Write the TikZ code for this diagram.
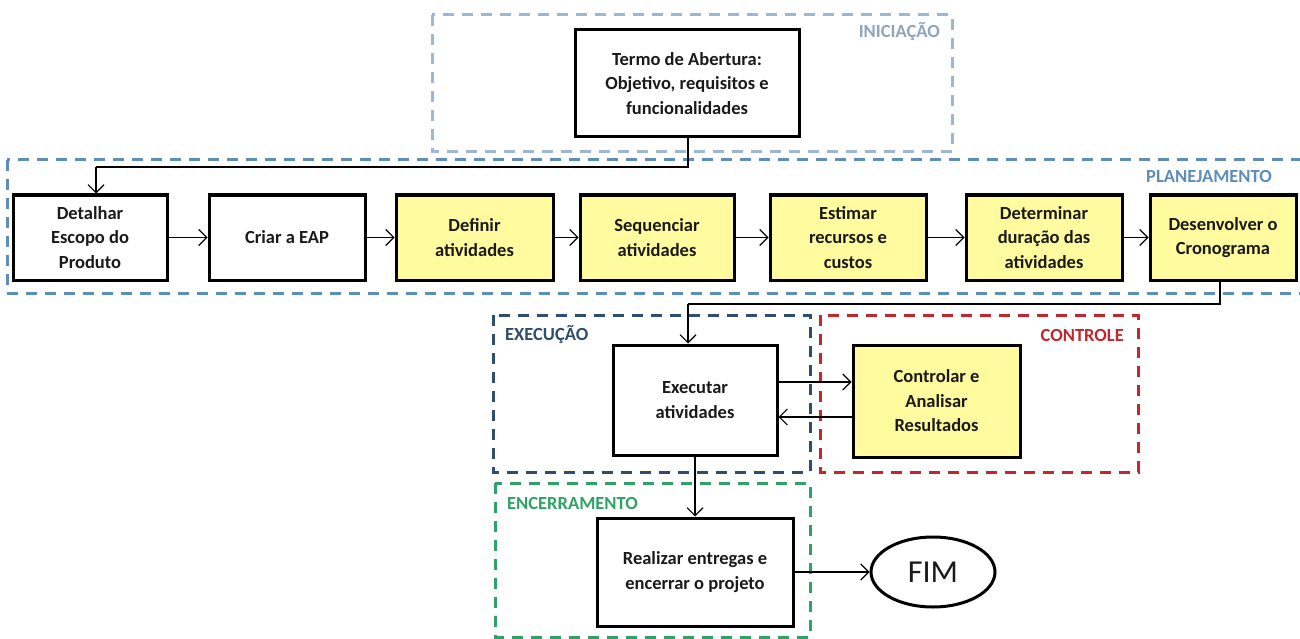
\documentclass[tikz,border=0pt]{standalone}
\usepackage{fontspec}
\setmainfont{Carlito}
\usetikzlibrary{arrows.meta,shapes.geometric}
\definecolor{iniC}{HTML}{9CB6D3}
\definecolor{planC}{HTML}{5E8DB9}
\definecolor{execC}{HTML}{2F4D6E}
\definecolor{ctrlC}{HTML}{C1272D}
\definecolor{encC}{HTML}{2FA265}
\definecolor{boxY}{HTML}{FFFB9E}
\definecolor{txt}{HTML}{1A1A1A}
\tikzset{
  phase/.style={line width=3pt, dash pattern=on 11pt off 8pt},
  phaselabel/.style={font=\fontsize{18.5}{22}\selectfont\bfseries, inner sep=0pt},
  proc/.style={draw=black, line width=3pt, fill=white, align=center, inner sep=0pt,
    text=txt, font=\fontsize{18.5}{24.5}\selectfont\bfseries},
  yproc/.style={proc, fill=boxY},
  arr/.style={line width=1.1pt, -{Straight Barb[length=8pt,width=16pt]}},
  link/.style={line width=1.1pt}
}
\begin{document}
\begin{tikzpicture}[x=1pt,y=-1pt]
\useasboundingbox (0,0) rectangle (1300,639);
% phase frames
\draw[phase, iniC] (432,15) rectangle (952,152);
\draw[phase, planC] (7,160) rectangle (1310,293);
\draw[phase, execC] (493,315) rectangle (810,472);
\draw[phase, ctrlC] (820,315) rectangle (1138,472);
\draw[phase, encC] (495,483) rectangle (810,637);
\node[phaselabel, text=iniC!90!black, anchor=east] (lini) at (940,32) {INICIAÇÃO};
\node[phaselabel, text=planC, anchor=east] (lplan) at (1272,176) {PLANEJAMENTO};
\node[phaselabel, text=execC, anchor=west] (lexec) at (505,335) {EXECUÇÃO};
\node[phaselabel, text=ctrlC, anchor=east] (lctrl) at (1124,335) {CONTROLE};
\node[phaselabel, text=encC, anchor=west] (lenc) at (507,503) {ENCERRAMENTO};
% boxes
\node[proc, minimum width=224pt, minimum height=107pt] (termo) at (687,83.5)
  {Termo de Abertura:\\Objetivo, requisitos e\\funcionalidades};
\node[proc, minimum width=154pt, minimum height=85pt] (det) at (90,237.5) {Detalhar\\Escopo do\\Produto};
\node[proc, minimum width=156pt, minimum height=85pt] (eap) at (287,237.5) {Criar a EAP};
\node[yproc, minimum width=157pt, minimum height=85pt] (def) at (474.5,237.5) {Definir\\atividades};
\node[yproc, minimum width=154pt, minimum height=85pt] (seq) at (657,237.5) {Sequenciar\\atividades};
\node[yproc, minimum width=156pt, minimum height=85pt] (est) at (848,237.5) {Estimar\\recursos e\\custos};
\node[yproc, minimum width=156pt, minimum height=85pt] (dur) at (1044,237.5) {Determinar\\duração das\\atividades};
\node[yproc, minimum width=146pt, minimum height=85pt] (cron) at (1223,237.5) {Desenvolver o\\Cronograma};
\node[proc, minimum width=164pt, minimum height=110pt] (exe) at (695,400) {Executar\\atividades};
\node[yproc, minimum width=167pt, minimum height=112pt] (ctl) at (936.5,401) {Controlar e\\Analisar\\Resultados};
\node[proc, minimum width=196pt, minimum height=108pt] (fin) at (695,572) {Realizar entregas e\\encerrar o projeto};
\node[draw=black, line width=3pt, ellipse, minimum width=124pt, minimum height=70pt, inner sep=0pt,
  text=txt, font=\fontsize{32}{36}\selectfont] (fim) at (933,572) {FIM};
% connectors
\coordinate (k1) at (688,167);
\coordinate (k2) at (96,167);
\draw[link] (termo.south -| k1) -- (k1) -- (k2);
\draw[arr] (k2) -- (det.north -| k2);
\draw[arr] (det) -- (eap);
\draw[arr] (eap) -- (def);
\draw[arr] (def) -- (seq);
\draw[arr] (seq) -- (est);
\draw[arr] (est) -- (dur);
\draw[arr] (dur) -- (cron);
\coordinate (k3) at (1220,304);
\coordinate (k4) at (688,304);
\draw[link] (cron.south -| k3) -- (k3) -- (k4);
\draw[arr] (k4) -- (exe.north -| k4);
\draw[arr] ([yshift=18pt]exe.east) -- ([yshift=18pt]exe.east -| ctl.west);
\draw[arr] ([yshift=-17pt]ctl.west |- exe.east) -- ([yshift=-17pt]exe.east);
\draw[arr] (exe.south) -- (fin.north);
\draw[arr] (fin.east) -- (fim.west);
\end{tikzpicture}
\end{document}
